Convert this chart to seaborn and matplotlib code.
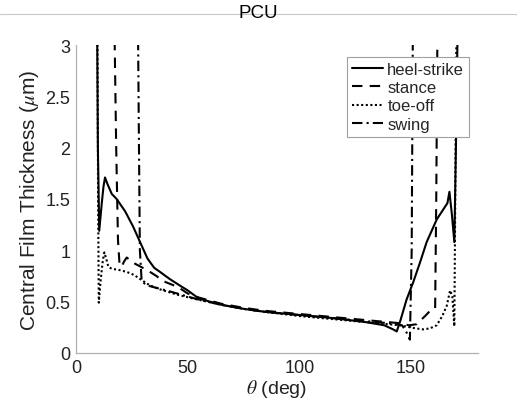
import matplotlib
matplotlib.use("Agg")
import matplotlib.pyplot as plt
import seaborn as sns
import pandas as pd
from matplotlib.lines import Line2D

# ---- data ----
hs_x = [9.5, 9.8, 10.4, 11.5, 12.3, 13.0, 14.0, 15.2, 16.0, 18.2, 22.0, 25.6, 28.7, 32.0, 35.0,
        37.6, 42.0, 47.0, 50.0, 55.0, 65.0, 75.0, 85.0, 100.0, 115.0, 130.0, 138.0, 142.0,
        143.6, 145.3, 148.0, 151.0, 154.0, 157.0, 161.5, 164.5, 166.3, 167.2, 168.3, 169.4,
        170.1, 170.8]
hs_y = [3.05, 2.00, 1.19, 1.45, 1.62, 1.71, 1.65, 1.59, 1.55, 1.50, 1.38, 1.23, 1.08, 0.92, 0.83,
        0.79, 0.72, 0.65, 0.61, 0.53, 0.47, 0.43, 0.40, 0.37, 0.34, 0.30, 0.27, 0.23,
        0.21, 0.32, 0.52, 0.69, 0.88, 1.08, 1.30, 1.40, 1.46, 1.57, 1.35, 1.08,
        2.00, 3.05]

st_x = [17.3, 18.0, 18.8, 19.5, 20.4, 21.5, 22.7, 24.5, 26.4, 29.0, 32.4, 36.0, 39.0, 42.5,
        45.8, 50.0, 55.0, 65.0, 75.0, 85.0, 100.0, 115.0, 130.0, 140.0, 145.0, 149.0,
        152.5, 156.3, 158.5, 160.8, 161.3, 161.8]
st_y = [3.05, 2.00, 1.10, 0.86, 0.84, 0.89, 0.93, 0.90, 0.87, 0.84, 0.80, 0.75, 0.70, 0.67,
        0.64, 0.58, 0.54, 0.48, 0.44, 0.41, 0.38, 0.35, 0.32, 0.30, 0.29, 0.27,
        0.28, 0.36, 0.41, 0.43, 1.50, 3.05]

to_x = [9.6, 9.9, 10.2, 11.0, 12.0, 12.7, 13.5, 14.5, 16.0, 19.0, 22.7, 26.0, 29.4, 33.0,
        37.6, 45.0, 52.5, 65.0, 75.0, 85.0, 100.0, 115.0, 130.0, 140.0, 145.0, 149.6,
        152.0, 155.5, 158.5, 161.5, 164.0, 166.0, 167.5, 168.5, 169.4, 169.8, 170.3]
to_y = [3.05, 1.50, 0.49, 0.70, 0.90, 0.98, 0.92, 0.84, 0.82, 0.81, 0.79, 0.76, 0.71, 0.66,
        0.62, 0.57, 0.53, 0.47, 0.43, 0.40, 0.36, 0.33, 0.30, 0.28, 0.27, 0.25,
        0.24, 0.23, 0.24, 0.27, 0.36, 0.46, 0.61, 0.55, 0.26, 1.50, 3.05]

sw_x = [27.8, 28.2, 28.6, 29.4, 31.6, 35.0, 42.0, 50.0, 55.0, 65.0, 75.0, 85.0, 100.0,
        115.0, 130.0, 140.0, 146.0, 148.0, 149.5, 150.3, 150.8]
sw_y = [3.05, 2.00, 1.00, 0.70, 0.66, 0.64, 0.60, 0.55, 0.52, 0.47, 0.43, 0.40, 0.37,
        0.34, 0.31, 0.29, 0.27, 0.20, 0.13, 1.00, 3.05]

labels = ["heel-strike", "stance", "toe-off", "swing"]
styles = ["-", (0, (5, 3.5)), (0, (1, 1.2)), (0, (5, 2, 1, 2))]
x_ticks = [0, 50, 100, 150]
y_ticks = [0, 0.5, 1, 1.5, 2, 2.5, 3]
y_tick_labels = ["0", "0.5", "1", "1.5", "2", "2.5", "3"]

# ---- plot ----
sns.set_theme(style="white")
plt.rcParams["font.family"] = ["Liberation Sans", "DejaVu Sans"]
plt.rcParams["mathtext.fontset"] = "stix"

fig = plt.figure(figsize=(5.17, 4.10), dpi=100)
ax = fig.add_axes([0.147, 0.1366, 0.7776, 0.7512])

series = [(hs_x, hs_y), (st_x, st_y), (to_x, to_y), (sw_x, sw_y)]
for (xs, ys), lab, ls in zip(series, labels, styles):
    df = pd.DataFrame({"theta": xs, "h": ys})
    sns.lineplot(data=df, x="theta", y="h", ax=ax, color="black", linewidth=1.5,
                 linestyle=ls, label=lab, sort=False, estimator=None)

ax.set_xlim(0, 180)
ax.set_ylim(0, 3)
ax.set_xticks(x_ticks)
ax.set_xticklabels([str(t) for t in x_ticks])
ax.set_yticks(y_ticks)
ax.set_yticklabels(y_tick_labels)

for s in ["top", "right"]:
    ax.spines[s].set_visible(False)
for s in ["left", "bottom"]:
    ax.spines[s].set_color("#b0b0b0")
    ax.spines[s].set_linewidth(0.9)
ax.tick_params(axis="both", direction="in", length=4, width=0.8, color="#b0b0b0",
               labelsize=13, labelcolor="#222222", pad=4)

ax.set_xlabel(r"$\theta$ (deg)", fontsize=14, color="#222222", labelpad=1)
ax.set_ylabel(r"Central Film Thickness ($\mu$m)", fontsize=15, color="#222222", labelpad=3)

leg = ax.legend(loc="upper right", bbox_to_anchor=(0.978, 0.962), fontsize=12,
                frameon=True, fancybox=False, handlelength=1.85, handletextpad=0.25,
                borderpad=0.3, labelspacing=0.2, borderaxespad=0.0)
leg.get_frame().set_edgecolor("#a0a0a0")
leg.get_frame().set_linewidth(0.8)
leg.get_frame().set_facecolor("white")
leg.get_frame().set_alpha(1.0)

# thin gray rule across the top of the figure, behind the title
fig.add_artist(Line2D([0, 1], [1 - 15 / 410, 1 - 15 / 410], transform=fig.transFigure,
                      color="#c8c8c8", linewidth=0.8, zorder=0))
fig.text(0.5, 1 - 14 / 410, "PCU", ha="center", va="center", fontsize=13.5, color="black",
         zorder=2)

fig.savefig("out.png", dpi=100)
